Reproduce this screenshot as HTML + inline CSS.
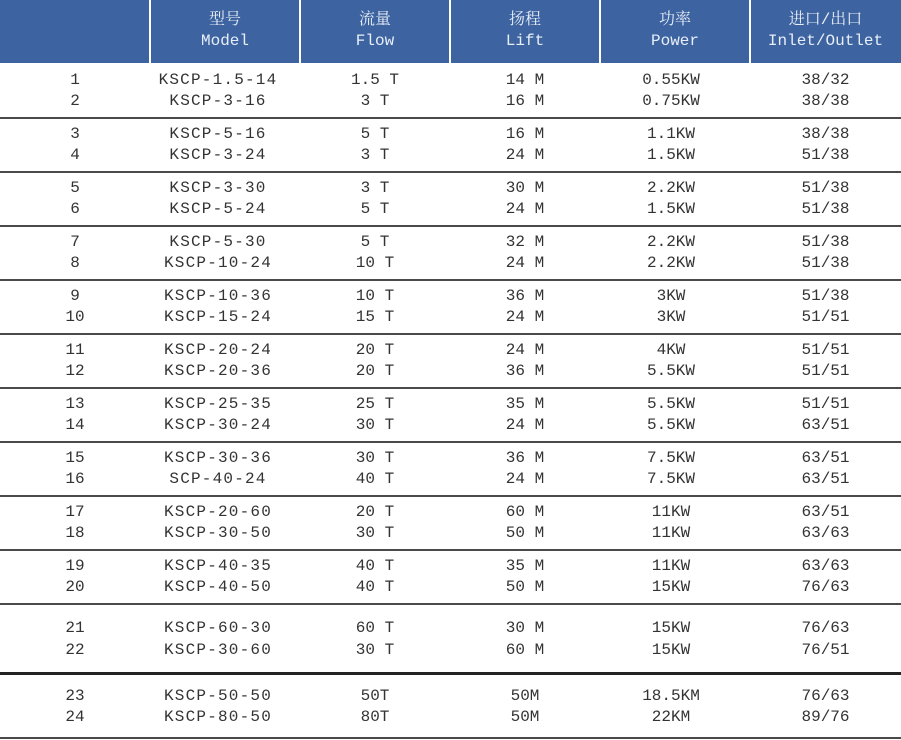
<!DOCTYPE html>
<html><head><meta charset="utf-8"><style>
body{margin:0;width:901px;height:740px;background:#fff;position:relative;overflow:hidden;font-family:"Liberation Mono","Noto Sans CJK SC",monospace;color:#333;font-size:16px}
.hd{position:absolute;left:0;top:0;width:901px;height:63px;background:#3d64a0;}
.hc{position:absolute;top:0;height:63px;color:#e8eef8;text-align:center;font-size:16px;line-height:21px;padding-top:10px;box-sizing:border-box;font-family:"Liberation Mono","Noto Serif CJK SC",monospace}
.vs{position:absolute;top:0;width:2px;height:63px;background:#fff}
.r{position:absolute;left:0;width:901px;height:20px;line-height:20px}
.r span{position:absolute;top:0;text-align:center;white-space:pre}
.c1{left:0;width:150px}.c2{left:143px;width:150px;letter-spacing:1.2px}.c3{left:300px;width:150px}.c4{left:450px;width:150px}.c5{left:596px;width:150px}.c6{left:750px;width:151px}
.ln{position:absolute;left:0;width:901px;height:2px;background:#4a4a4a}
</style></head><body>
<div class="hd"></div>
<div class="vs" style="left:149px"></div><div class="vs" style="left:299px"></div><div class="vs" style="left:449px"></div><div class="vs" style="left:599px"></div><div class="vs" style="left:749px"></div>
<div class="hc" style="left:150px;width:150px">型号<br>Model</div>
<div class="hc" style="left:300px;width:150px">流量<br>Flow</div>
<div class="hc" style="left:450px;width:150px">扬程<br>Lift</div>
<div class="hc" style="left:600px;width:150px">功率<br>Power</div>
<div class="hc" style="left:750px;width:151px">进口/出口<br>Inlet/Outlet</div>

<div class="r" style="top:70px"><span class="c1">1</span><span class="c2">KSCP-1.5-14</span><span class="c3">1.5 T</span><span class="c4">14 M</span><span class="c5">0.55KW</span><span class="c6">38/32</span></div>
<div class="r" style="top:91px"><span class="c1">2</span><span class="c2">KSCP-3-16</span><span class="c3">3 T</span><span class="c4">16 M</span><span class="c5">0.75KW</span><span class="c6">38/38</span></div>
<div class="ln" style="top:117px"></div>
<div class="r" style="top:124px"><span class="c1">3</span><span class="c2">KSCP-5-16</span><span class="c3">5 T</span><span class="c4">16 M</span><span class="c5">1.1KW</span><span class="c6">38/38</span></div>
<div class="r" style="top:145px"><span class="c1">4</span><span class="c2">KSCP-3-24</span><span class="c3">3 T</span><span class="c4">24 M</span><span class="c5">1.5KW</span><span class="c6">51/38</span></div>
<div class="ln" style="top:171px"></div>
<div class="r" style="top:178px"><span class="c1">5</span><span class="c2">KSCP-3-30</span><span class="c3">3 T</span><span class="c4">30 M</span><span class="c5">2.2KW</span><span class="c6">51/38</span></div>
<div class="r" style="top:199px"><span class="c1">6</span><span class="c2">KSCP-5-24</span><span class="c3">5 T</span><span class="c4">24 M</span><span class="c5">1.5KW</span><span class="c6">51/38</span></div>
<div class="ln" style="top:225px"></div>
<div class="r" style="top:232px"><span class="c1">7</span><span class="c2">KSCP-5-30</span><span class="c3">5 T</span><span class="c4">32 M</span><span class="c5">2.2KW</span><span class="c6">51/38</span></div>
<div class="r" style="top:253px"><span class="c1">8</span><span class="c2">KSCP-10-24</span><span class="c3">10 T</span><span class="c4">24 M</span><span class="c5">2.2KW</span><span class="c6">51/38</span></div>
<div class="ln" style="top:279px"></div>
<div class="r" style="top:286px"><span class="c1">9</span><span class="c2">KSCP-10-36</span><span class="c3">10 T</span><span class="c4">36 M</span><span class="c5">3KW</span><span class="c6">51/38</span></div>
<div class="r" style="top:307px"><span class="c1">10</span><span class="c2">KSCP-15-24</span><span class="c3">15 T</span><span class="c4">24 M</span><span class="c5">3KW</span><span class="c6">51/51</span></div>
<div class="ln" style="top:333px"></div>
<div class="r" style="top:340px"><span class="c1">11</span><span class="c2">KSCP-20-24</span><span class="c3">20 T</span><span class="c4">24 M</span><span class="c5">4KW</span><span class="c6">51/51</span></div>
<div class="r" style="top:361px"><span class="c1">12</span><span class="c2">KSCP-20-36</span><span class="c3">20 T</span><span class="c4">36 M</span><span class="c5">5.5KW</span><span class="c6">51/51</span></div>
<div class="ln" style="top:387px"></div>
<div class="r" style="top:394px"><span class="c1">13</span><span class="c2">KSCP-25-35</span><span class="c3">25 T</span><span class="c4">35 M</span><span class="c5">5.5KW</span><span class="c6">51/51</span></div>
<div class="r" style="top:415px"><span class="c1">14</span><span class="c2">KSCP-30-24</span><span class="c3">30 T</span><span class="c4">24 M</span><span class="c5">5.5KW</span><span class="c6">63/51</span></div>
<div class="ln" style="top:441px"></div>
<div class="r" style="top:448px"><span class="c1">15</span><span class="c2">KSCP-30-36</span><span class="c3">30 T</span><span class="c4">36 M</span><span class="c5">7.5KW</span><span class="c6">63/51</span></div>
<div class="r" style="top:469px"><span class="c1">16</span><span class="c2">SCP-40-24</span><span class="c3">40 T</span><span class="c4">24 M</span><span class="c5">7.5KW</span><span class="c6">63/51</span></div>
<div class="ln" style="top:495px"></div>
<div class="r" style="top:502px"><span class="c1">17</span><span class="c2">KSCP-20-60</span><span class="c3">20 T</span><span class="c4">60 M</span><span class="c5">11KW</span><span class="c6">63/51</span></div>
<div class="r" style="top:523px"><span class="c1">18</span><span class="c2">KSCP-30-50</span><span class="c3">30 T</span><span class="c4">50 M</span><span class="c5">11KW</span><span class="c6">63/63</span></div>
<div class="ln" style="top:549px"></div>
<div class="r" style="top:556px"><span class="c1">19</span><span class="c2">KSCP-40-35</span><span class="c3">40 T</span><span class="c4">35 M</span><span class="c5">11KW</span><span class="c6">63/63</span></div>
<div class="r" style="top:577px"><span class="c1">20</span><span class="c2">KSCP-40-50</span><span class="c3">40 T</span><span class="c4">50 M</span><span class="c5">15KW</span><span class="c6">76/63</span></div>
<div class="ln" style="top:603px"></div>
<div class="r" style="top:618px"><span class="c1">21</span><span class="c2">KSCP-60-30</span><span class="c3">60 T</span><span class="c4">30 M</span><span class="c5">15KW</span><span class="c6">76/63</span></div>
<div class="r" style="top:640px"><span class="c1">22</span><span class="c2">KSCP-30-60</span><span class="c3">30 T</span><span class="c4">60 M</span><span class="c5">15KW</span><span class="c6">76/51</span></div>
<div class="ln" style="top:672px;height:3px;background:#222"></div>
<div class="r" style="top:686px"><span class="c1">23</span><span class="c2">KSCP-50-50</span><span class="c3">50T</span><span class="c4">50M</span><span class="c5">18.5KM</span><span class="c6">76/63</span></div>
<div class="r" style="top:707px"><span class="c1">24</span><span class="c2">KSCP-80-50</span><span class="c3">80T</span><span class="c4">50M</span><span class="c5">22KM</span><span class="c6">89/76</span></div>
<div class="ln" style="top:737px"></div>
</body></html>
